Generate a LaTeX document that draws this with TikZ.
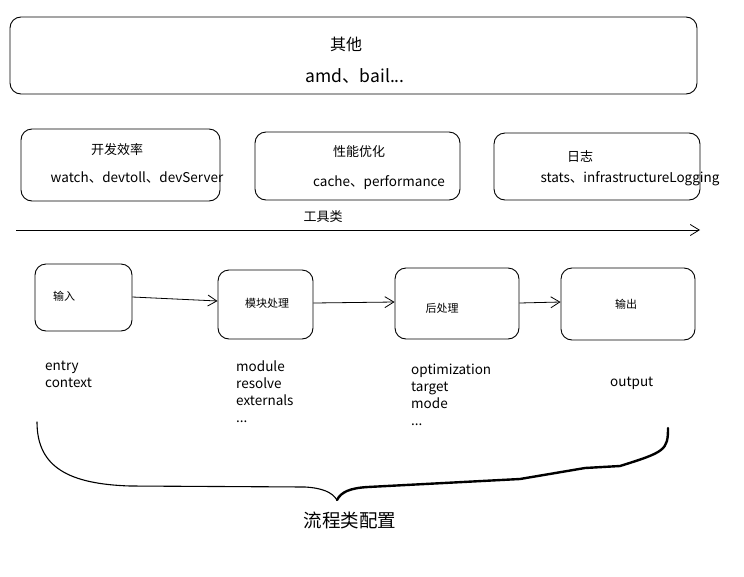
\documentclass[tikz,border=0pt]{standalone}
\usepackage{fontspec}
\setmainfont{Noto Sans CJK SC}
\usetikzlibrary{arrows.meta}
\tikzset{
  box/.style={draw, line width=0.9pt, rounded corners=11pt, inner sep=0pt},
  zh/.style={font=\fontsize{13}{15}\selectfont, inner sep=0pt},
  zhs/.style={font=\fontsize{11}{13}\selectfont, inner sep=0pt},
  en/.style={font=\fontsize{13.5}{17}\selectfont, inner sep=0pt},
  flow/.style={line width=0.8pt, -{Straight Barb[length=9pt,width=11pt]}},
}
\begin{document}
\begin{tikzpicture}[x=1pt,y=-1pt]
\useasboundingbox[fill=white] (0,0) rectangle (744,576);
% top box
\node[box, minimum width=687pt, minimum height=77pt] (other) at (353.5,55.5) {};
\node[zh, font=\fontsize{16}{18}\selectfont] (otherT) at (346,44) {其他};
\node[en, font=\fontsize{17.5}{20}\selectfont] (otherS) at (355,76) {amd、bail...};
% tool boxes
\node[box, minimum width=199pt, minimum height=72pt] (dev) at (120.5,165) {};
\node[zh] (devT) at (117,150) {开发效率};
\node[en] (devS) at (137,178) {watch、devtoll、devServer};
\node[box, minimum width=205pt, minimum height=68pt] (perf) at (357.5,166) {};
\node[zh] (perfT) at (359,152) {性能优化};
\node[en] (perfS) at (379,183) {cache、performance};
\node[box, minimum width=206pt, minimum height=67pt] (log) at (597,166.5) {};
\node[zh] (logT) at (580,156) {日志};
\node[en] (logS) at (630,179) {stats、infrastructureLogging};
% tool axis
\coordinate (axL) at (16,230);
\coordinate (axR) at (700,230);
\draw[flow] (axL) -- (axR);
\node[zh] (tool) at (323,217) {工具类};
% process boxes
\node[box, minimum width=97pt, minimum height=67pt] (in) at (83.5,297.5) {};
\node[zhs] (inT) at (64,296) {输入};
\node[box, minimum width=95pt, minimum height=69pt] (mod) at (265.5,304.5) {};
\node[zhs] (modT) at (267,303) {模块处理};
\node[box, minimum width=124pt, minimum height=71pt] (post) at (457,303.5) {};
\node[zhs] (postT) at (442,308) {后处理};
\node[box, minimum width=134pt, minimum height=72pt] (out) at (628,304) {};
\node[zhs] (outT) at (626,304) {输出};
\draw[flow] (in.east |- 0,297) -- (mod.west |- 0,301);
\draw[flow] (mod.east |- 0,303) -- (post.west |- 0,302);
\draw[flow] (post.east |- 0,303) -- (out.west |- 0,302);
% config texts
\node[en, anchor=north west, align=left] (inC) at (45,361) {entry\\context};
\node[en, anchor=north west, align=left] (modC) at (236,361) {module\\resolve\\externals\\...};
\node[en, anchor=north west, align=left] (postC) at (411,364) {optimization\\target\\mode\\...};
\node[en, anchor=north west, align=left] (outC) at (610,377) {output};
% brace
\coordinate (bL) at (37,422);
\coordinate (bT) at (337,500);
\coordinate (bR) at (668,428);
\draw[line width=1.1pt, line cap=round] (bL) .. controls (37,468) and (70,484) .. (130,486) -- (305,487) .. controls (322,488) and (332,492) .. (bT);
\draw[line width=2.4pt, line cap=round, line join=round] (bT) .. controls (341,492) and (350,488) .. (368,487) -- (520,479) -- (585,468) -- (620,466) .. controls (665,452) and (668,450) .. (bR);
\node[zh, font=\fontsize{18.5}{21}\selectfont] (flowT) at (350,520) {流程类配置};
\end{tikzpicture}
\end{document}
